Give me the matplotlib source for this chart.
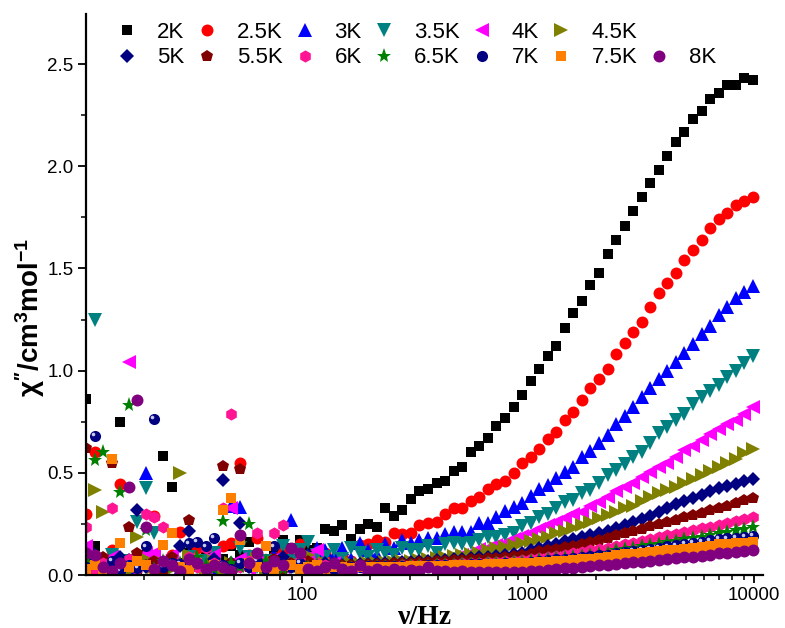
import numpy as np
import matplotlib
matplotlib.use("Agg")
from matplotlib import pyplot as plt
from matplotlib.ticker import FixedLocator, FuncFormatter, MultipleLocator, LogLocator, NullFormatter
from matplotlib.transforms import ScaledTranslation
from matplotlib.lines import Line2D

plt.rcParams['font.family'] = ['Liberation Sans', 'DejaVu Sans']
plt.rcParams['mathtext.fontset'] = 'custom'
plt.rcParams['mathtext.rm'] = 'Liberation Sans'
plt.rcParams['mathtext.it'] = 'Liberation Sans:italic'
plt.rcParams['mathtext.bf'] = 'Liberation Sans:bold'

# frequencies (Hz)
freq = [11.1, 12.1, 13.2, 14.4, 15.7, 17.1, 18.7, 20.4, 22.2, 24.3,
        26.5, 28.9, 31.5, 34.4, 37.5, 40.9, 44.6, 48.7, 53.1, 58.0,
        63.2, 69.0, 75.3, 82.1, 89.6, 97.7, 106.6, 116.4, 126.9, 138.5,
        151.1, 164.9, 179.9, 196.3, 214.1, 233.6, 254.9, 278.1, 303.4, 331.1,
        361.2, 394.1, 430.0, 469.1, 511.8, 558.4, 609.2, 664.7, 725.2, 791.2,
        863.2, 941.8, 1027, 1121, 1223, 1334, 1456, 1588, 1733, 1890,
        2063, 2250, 2455, 2679, 2923, 3189, 3479, 3796, 4141, 4518,
        4929, 5378, 5867, 6401, 6984, 7620, 8313, 9070, 9895]

chi_2K = [0.86, 0.14, 0.05, 0.02, 0.75, 0.08, 0.03, 0.10, 0.015, 0.58,
          0.43, 0.06, 0.11, 0.04, 0.12, 0.04, 0.08, 0.14, 0.10, 0.16,
          0.09, 0.14, 0.12, 0.17, 0.13, 0.17, 0.12, 0.13, 0.225, 0.215,
          0.245, 0.175, 0.225, 0.25, 0.235, 0.33, 0.29, 0.32, 0.37, 0.41,
          0.42, 0.45, 0.46, 0.51, 0.53, 0.60, 0.63, 0.67, 0.73, 0.77,
          0.82, 0.88, 0.95, 1.01, 1.07, 1.12, 1.21, 1.28, 1.34, 1.42,
          1.48, 1.57, 1.64, 1.71, 1.78, 1.85, 1.92, 1.98, 2.05, 2.12,
          2.17, 2.23, 2.27, 2.33, 2.36, 2.40, 2.40, 2.43, 2.42]
chi_2_5K = [0.30, 0.60, 0.05, 0.12, 0.445, 0.02, 0.08, 0.06, 0.29, 0.03,
            0.10, 0.21, 0.05, 0.13, 0.02, 0.09, 0.14, 0.155, 0.55, 0.10,
            0.18, 0.06, 0.09, 0.12, 0.08, 0.15, 0.09, 0.07, 0.11, 0.08,
            0.10, 0.07, 0.147, 0.15, 0.17, 0.16, 0.205, 0.20, 0.205, 0.245,
            0.255, 0.26, 0.30, 0.33, 0.33, 0.36, 0.38, 0.42, 0.445, 0.46,
            0.50, 0.55, 0.577, 0.615, 0.665, 0.70, 0.76, 0.80, 0.856, 0.915,
            0.96, 1.01, 1.08, 1.135, 1.19, 1.24, 1.31, 1.38, 1.43, 1.48,
            1.54, 1.59, 1.64, 1.70, 1.74, 1.77, 1.81, 1.83, 1.85]
chi_3K = [0.02, 0.10, 0.04, 0.01, 0.06, 0.03, 0.08, 0.50, 0.05, 0.02,
          0.07, 0.03, 0.10, 0.06, 0.06, 0.04, 0.02, 0.34, 0.335, 0.08,
          0.06, 0.04, 0.10, 0.08, 0.27, 0.07, 0.10, 0.13, 0.12, 0.09,
          0.13, 0.08, 0.155, 0.12, 0.10, 0.15, 0.13, 0.17, 0.155, 0.17,
          0.18, 0.18, 0.20, 0.21, 0.21, 0.21, 0.255, 0.255, 0.285, 0.315,
          0.335, 0.35, 0.385, 0.42, 0.44, 0.475, 0.505, 0.53, 0.575, 0.605,
          0.645, 0.685, 0.74, 0.78, 0.82, 0.87, 0.915, 0.96, 1.00, 1.04,
          1.085, 1.13, 1.18, 1.22, 1.27, 1.31, 1.355, 1.385, 1.414]
chi_3_5K = [0.05, 1.25, 0.02, 0.10, 0.04, 0.07, 0.26, 0.425, 0.205, 0.03,
            0.06, 0.02, 0.09, 0.04, 0.07, 0.11, 0.03, 0.05, 0.13, 0.09,
            0.04, 0.07, 0.05, 0.14, 0.07, 0.12, 0.16, 0.10, 0.09, 0.12,
            0.08, 0.13, 0.11, 0.09, 0.12, 0.11, 0.10, 0.13, 0.12, 0.12,
            0.14, 0.11, 0.15, 0.155, 0.15, 0.155, 0.17, 0.185, 0.185, 0.195,
            0.205, 0.24, 0.255, 0.285, 0.30, 0.33, 0.357, 0.367, 0.40, 0.415,
            0.45, 0.49, 0.515, 0.545, 0.577, 0.60, 0.645, 0.695, 0.725, 0.76,
            0.79, 0.835, 0.87, 0.90, 0.93, 0.97, 1.00, 1.035, 1.07]
chi_4K = [0.14, 0.03, 0.05, 0.09, 0.02, 1.04, 0.06, 0.11, 0.11, 0.04,
          0.10, 0.02, 0.07, 0.03, 0.01, 0.10, 0.04, 0.33, 0.08, 0.03,
          0.06, 0.02, 0.08, 0.04, 0.05, 0.03, 0.09, 0.12, 0.03, 0.06,
          0.02, 0.04, 0.03, 0.05, 0.04, 0.03, 0.035, 0.045, 0.05, 0.055,
          0.065, 0.07, 0.08, 0.09, 0.10, 0.107, 0.125, 0.13, 0.147, 0.155,
          0.175, 0.19, 0.205, 0.225, 0.245, 0.26, 0.28, 0.30, 0.31, 0.34,
          0.357, 0.38, 0.41, 0.43, 0.45, 0.48, 0.505, 0.53, 0.55, 0.577,
          0.61, 0.63, 0.66, 0.69, 0.715, 0.74, 0.76, 0.79, 0.82]
chi_4_5K = [0.07, 0.415, 0.31, 0.03, 0.06, 0.02, 0.185, 0.08, 0.04, 0.06,
            0.03, 0.50, 0.10, 0.05, 0.03, 0.07, 0.02, 0.06, 0.035, 0.05,
            0.08, 0.03, 0.06, 0.04, 0.07, 0.05, 0.10, 0.04, 0.06, 0.05,
            0.05, 0.06, 0.055, 0.06, 0.06, 0.065, 0.065, 0.07, 0.07, 0.075,
            0.08, 0.085, 0.09, 0.095, 0.10, 0.105, 0.11, 0.12, 0.13, 0.137,
            0.147, 0.155, 0.165, 0.175, 0.185, 0.205, 0.215, 0.23, 0.245, 0.26,
            0.28, 0.295, 0.31, 0.33, 0.34, 0.36, 0.38, 0.40, 0.415, 0.43,
            0.45, 0.47, 0.49, 0.51, 0.53, 0.55, 0.57, 0.595, 0.615]
chi_5K = [0.03, 0.08, 0.02, 0.05, 0.09, 0.075, 0.32, 0.04, 0.06, 0.03,
          0.07, 0.14, 0.215, 0.05, 0.03, 0.08, 0.465, 0.06, 0.255, 0.04,
          0.07, 0.03, 0.06, 0.09, 0.04, 0.06, 0.05, 0.04, 0.06, 0.05,
          0.05, 0.05, 0.055, 0.055, 0.06, 0.06, 0.06, 0.065, 0.065, 0.07,
          0.07, 0.075, 0.075, 0.08, 0.08, 0.085, 0.09, 0.09, 0.095, 0.10,
          0.105, 0.11, 0.12, 0.13, 0.14, 0.15, 0.165, 0.175, 0.185, 0.195,
          0.205, 0.215, 0.23, 0.245, 0.26, 0.275, 0.29, 0.31, 0.33, 0.345,
          0.36, 0.375, 0.39, 0.41, 0.425, 0.435, 0.445, 0.46, 0.47]
chi_5_5K = [0.62, 0.04, 0.09, 0.55, 0.03, 0.235, 0.11, 0.05, 0.07, 0.02,
            0.09, 0.04, 0.27, 0.06, 0.03, 0.05, 0.535, 0.06, 0.52, 0.04,
            0.07, 0.05, 0.08, 0.03, 0.06, 0.04, 0.07, 0.05, 0.04, 0.06,
            0.05, 0.05, 0.05, 0.055, 0.055, 0.055, 0.06, 0.06, 0.06, 0.065,
            0.065, 0.07, 0.07, 0.075, 0.075, 0.08, 0.08, 0.085, 0.085, 0.09,
            0.095, 0.10, 0.105, 0.115, 0.12, 0.125, 0.135, 0.14, 0.15, 0.16,
            0.17, 0.18, 0.195, 0.205, 0.215, 0.225, 0.24, 0.25, 0.26, 0.27,
            0.285, 0.295, 0.305, 0.32, 0.33, 0.34, 0.35, 0.365, 0.375]
chi_6K = [0.235, 0.015, 0.06, 0.33, 0.04, 0.08, 0.03, 0.30, 0.285, 0.235,
          0.05, 0.03, 0.09, 0.04, 0.13, 0.06, 0.33, 0.79, 0.04, 0.07,
          0.205, 0.05, 0.205, 0.245, 0.05, 0.07, 0.04, 0.06, 0.05, 0.03,
          0.04, 0.04, 0.042, 0.042, 0.044, 0.045, 0.046, 0.047, 0.048, 0.05,
          0.051, 0.052, 0.054, 0.055, 0.057, 0.059, 0.061, 0.063, 0.065, 0.067,
          0.07, 0.073, 0.078, 0.083, 0.088, 0.095, 0.10, 0.107, 0.113, 0.12,
          0.127, 0.133, 0.14, 0.15, 0.158, 0.167, 0.176, 0.185, 0.195, 0.203,
          0.212, 0.22, 0.228, 0.237, 0.245, 0.255, 0.265, 0.275, 0.285]
chi_6_5K = [0.08, 0.565, 0.60, 0.01, 0.405, 0.83, 0.05, 0.22, 0.03, 0.07,
            0.04, 0.06, 0.02, 0.09, 0.05, 0.03, 0.265, 0.06, 0.04, 0.25,
            0.05, 0.07, 0.04, 0.03, 0.04, 0.06, 0.04, 0.05, 0.03, 0.04,
            0.035, 0.036, 0.037, 0.038, 0.039, 0.04, 0.041, 0.042, 0.043, 0.045,
            0.046, 0.047, 0.049, 0.05, 0.052, 0.054, 0.055, 0.057, 0.059, 0.061,
            0.063, 0.065, 0.069, 0.073, 0.077, 0.081, 0.085, 0.09, 0.095, 0.10,
            0.105, 0.11, 0.12, 0.126, 0.133, 0.14, 0.147, 0.153, 0.16, 0.167,
            0.174, 0.181, 0.188, 0.196, 0.205, 0.212, 0.219, 0.227, 0.235]
chi_7K = [0.04, 0.68, 0.03, 0.07, 0.02, 0.05, 0.035, 0.14, 0.765, 0.04,
          0.06, 0.055, 0.155, 0.16, 0.14, 0.18, 0.05, 0.03, 0.06, 0.04,
          0.07, 0.03, 0.14, 0.05, 0.04, 0.06, 0.03, 0.05, 0.04, 0.03,
          0.04, 0.04, 0.04, 0.042, 0.042, 0.043, 0.044, 0.045, 0.045, 0.046,
          0.047, 0.048, 0.049, 0.05, 0.051, 0.053, 0.054, 0.055, 0.056, 0.058,
          0.059, 0.06, 0.064, 0.068, 0.072, 0.076, 0.08, 0.083, 0.087, 0.091,
          0.096, 0.10, 0.107, 0.112, 0.117, 0.122, 0.128, 0.134, 0.14, 0.145,
          0.151, 0.157, 0.163, 0.169, 0.175, 0.179, 0.183, 0.187, 0.19]
chi_7_5K = [0.03, 0.05, 0.02, 0.57, 0.155, 0.04, 0.07, 0.05, 0.03, 0.147,
            0.205, 0.04, 0.025, 0.06, 0.03, 0.05, 0.32, 0.375, 0.17, 0.06,
            0.04, 0.14, 0.03, 0.045, 0.05, 0.03, 0.04, 0.05, 0.03, 0.04,
            0.04, 0.035, 0.04, 0.038, 0.04, 0.038, 0.04, 0.04, 0.042, 0.042,
            0.044, 0.044, 0.046, 0.047, 0.048, 0.05, 0.051, 0.052, 0.054, 0.055,
            0.057, 0.058, 0.061, 0.064, 0.066, 0.068, 0.07, 0.073, 0.076, 0.08,
            0.085, 0.09, 0.097, 0.101, 0.105, 0.108, 0.111, 0.115, 0.12, 0.124,
            0.128, 0.132, 0.137, 0.141, 0.15, 0.152, 0.155, 0.158, 0.16]
chi_8K = [0.11, 0.10, 0.04, 0.02, 0.06, 0.43, 0.855, 0.235, 0.03, 0.07,
          0.05, 0.02, 0.08, 0.06, 0.03, 0.05, 0.04, 0.02, 0.195, 0.06,
          0.11, 0.04, 0.07, 0.05, 0.13, 0.11, 0.03, 0.02, 0.04, 0.06,
          0.03, 0.02, 0.05, 0.02, 0.03, 0.02, 0.03, 0.02, 0.025, 0.02,
          0.04, 0.02, 0.02, 0.015, 0.02, 0.015, 0.015, 0.015, 0.015, 0.015,
          0.015, 0.015, 0.018, 0.022, 0.025, 0.028, 0.032, 0.035, 0.039, 0.043,
          0.047, 0.051, 0.055, 0.059, 0.063, 0.066, 0.07, 0.074, 0.078, 0.082,
          0.086, 0.089, 0.093, 0.10, 0.107, 0.11, 0.113, 0.117, 0.12]

labels = ["2K", "2.5K", "3K", "3.5K", "4K", "4.5K",
          "5K", "5.5K", "6K", "6.5K", "7K", "7.5K", "8K"]
series = [chi_2K, chi_2_5K, chi_3K, chi_3_5K, chi_4K, chi_4_5K,
          chi_5K, chi_5_5K, chi_6K, chi_6_5K, chi_7K, chi_7_5K, chi_8K]
colors = ["#000000", "#FF0000", "#0000FF", "#008080", "#FF00FF", "#808000",
          "#000080", "#800000", "#FF1493", "#008000", "#000080", "#FF8000", "#800080"]
markers = ["s", "o", "^", "v", "<", ">", "D", "p", "h", "*", "o", "s", "o"]
sizes = [7.6, 8.6, 10.0, 10.0, 10.0, 10.0, 6.8, 9.0, 8.8, 11.0, 8.0, 7.6, 8.6]

fig = plt.figure(figsize=(7.85, 6.28), dpi=100)
ax = fig.add_axes([86/785, 53/628, 677/785, 561/628])

handles = []
for k in range(len(labels)):
    h, = ax.plot(freq, series[k], linestyle='none', marker=markers[k],
                 color=colors[k], markersize=sizes[k], markeredgewidth=0,
                 label=labels[k])
    handles.append(h)
    if labels[k] == "7K":
        # little highlight on the navy balls
        shift = ax.transData + ScaledTranslation(-1.3/72, 1.3/72, fig.dpi_scale_trans)
        ax.plot(freq, series[k], linestyle='none', marker='o', color='#C8C8E8',
                markersize=2.6, markeredgewidth=0, transform=shift)

ax.set_xscale('log')
ax.set_xlim(11.07, 10970)
ax.set_ylim(0, 2.745)

ax.xaxis.set_major_locator(FixedLocator([100, 1000, 10000]))
ax.xaxis.set_major_formatter(FuncFormatter(lambda v, p: "%d" % v))
ax.xaxis.set_minor_locator(LogLocator(base=10, subs=np.arange(2, 10)))
ax.xaxis.set_minor_formatter(NullFormatter())
ax.yaxis.set_major_locator(MultipleLocator(0.5))
ax.yaxis.set_minor_locator(MultipleLocator(0.25))
ax.yaxis.set_major_formatter(FuncFormatter(lambda v, p: "%.1f" % v))

for s in ['top', 'right']:
    ax.spines[s].set_visible(False)
for s in ['left', 'bottom']:
    ax.spines[s].set_linewidth(1.6)
ax.tick_params(which='major', direction='out', length=6, width=1.3, labelsize=13.5, pad=3)
ax.tick_params(which='minor', direction='out', length=3.5, width=1.1)

ax.set_xlabel("ν/Hz", fontsize=20, family=['Liberation Serif'], fontweight='bold', labelpad=0)
ax.set_ylabel(r"$\mathbf{\chi''/cm^{3}mol^{-1}}$", fontsize=20)
ax.yaxis.set_label_coords(-0.058, 0.46)

# legend: row-major order with a blank slot at the end of the first row
blank = Line2D([], [], linestyle='none', marker=None)
order = []
for c in range(6):
    order.append((handles[c], labels[c]))
    order.append((handles[c + 6], labels[c + 6]))
order.append((blank, ""))
order.append((handles[12], labels[12]))
leg = fig.legend([o[0] for o in order], [o[1] for o in order], ncol=7,
                 loc='upper left', bbox_to_anchor=(116/785, 1 - 22/628),
                 frameon=False, fontsize=16, handlelength=1.0, handletextpad=0.85,
                 columnspacing=0.5, labelspacing=0.2, borderpad=0, borderaxespad=0,
                 numpoints=1)

fig.savefig("out.png", dpi=100)
